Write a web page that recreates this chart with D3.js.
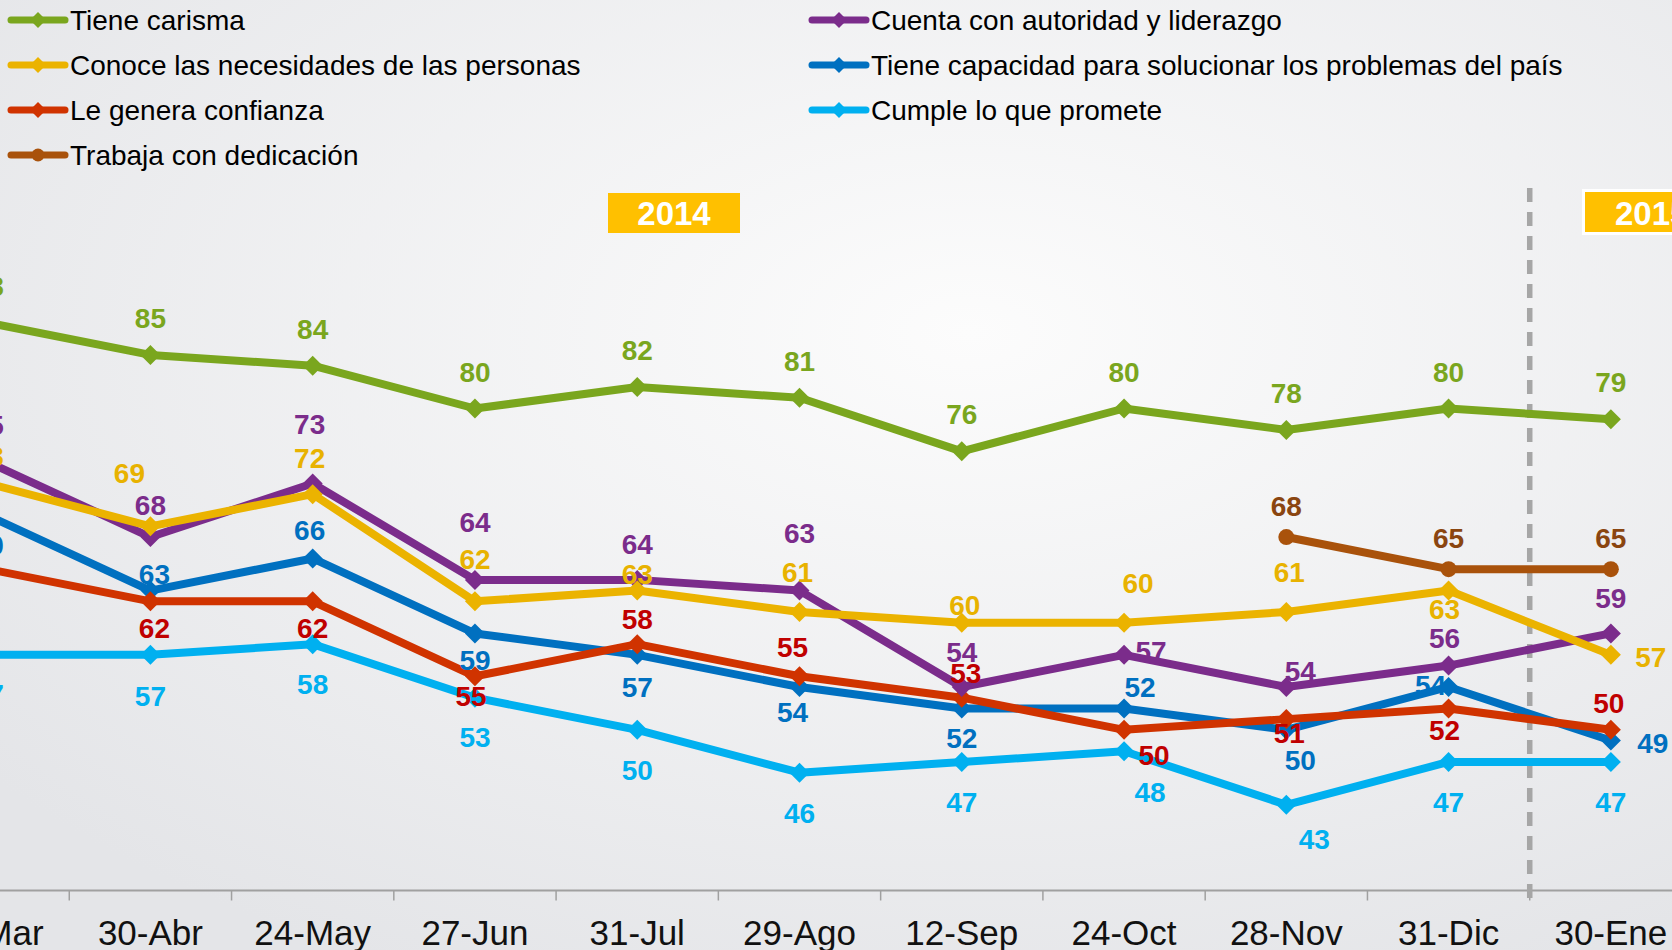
<!DOCTYPE html>
<html>
<head>
<meta charset="utf-8">
<script src="https://cdnjs.cloudflare.com/ajax/libs/d3/7.8.5/d3.min.js"></script>
<style>
body { margin:0; overflow:hidden; }
svg text { font-family: "Liberation Sans", Arial, sans-serif; }
</style>
</head>
<body>
<script>
var width=1672, height=950;

// data
var fechas=["29-Mar","30-Abr","24-May","27-Jun","31-Jul","29-Ago","12-Sep","24-Oct","28-Nov","31-Dic","30-Ene"];
var carisma=[88,85,84,80,82,81,76,80,78,80,79];
var necesidades=[73,69,72,62,63,61,60,60,61,63,57];
var autoridad=[75,68,73,64,64,63,54,57,54,56,59];
var capacidad=[70,63,66,59,57,54,52,52,50,54,49];
var confianza=[65,62,62,55,58,55,53,50,51,52,50];
var cumple=[57,57,58,53,50,46,47,48,43,47,47];
var dedicacion=[null,null,null,null,null,null,null,null,68,65,65];

// label nudges (px from point)
var nudgeCarisma=[[0,-37],[0,-37],[0,-37],[0,-37],[0,-37],[0,-37],[0,-37],[0,-37],[0,-37],[0,-37],[0,-37]];
var nudgeNecesidades=[[0,-27],[-21,-53],[-3,-36],[0,-42],[0,-17],[-2,-40],[3,-18],[14,-40],[3,-40],[-4,18],[40,2]];
var nudgeAutoridad=[[0,-37],[0,-32],[-3,-59],[0,-58],[0,-36],[0,-58],[0,-35],[27,-4],[14,-16],[-4,-28],[0,-35]];
var nudgeCapacidad=[[0,29],[4,-17],[-3,-28],[0,27],[0,32],[-7,25],[0,30],[16,-21],[14,30],[-18,-2],[42,2]];
var nudgeConfianza=[[-45,0],[4,27],[0,27],[-4,20],[0,-25],[-7,-29],[4,-25],[30,25],[3,14],[-4,22],[-2,-27]];
var nudgeCumple=[[0,39],[0,41],[0,40],[0,39],[0,40],[0,40],[0,40],[26,41],[28,34],[0,40],[0,40]];
var nudgeDedicacion=[[0,-31],[0,-31],[0,-31],[0,-31],[0,-31],[0,-31],[0,-31],[0,-31],[0,-31],[0,-31],[0,-31]];

var series=[
	{name:"Cumple lo que promete", values:cumple, color:"#00B0F0", label:"#00B0F0", marker:"diamond", nudge:nudgeCumple},
	{name:"Tiene capacidad para solucionar los problemas del país", values:capacidad, color:"#0070C0", label:"#0070C0", marker:"diamond", nudge:nudgeCapacidad},
	{name:"Le genera confianza", values:confianza, color:"#D03300", label:"#C00000", marker:"diamond", nudge:nudgeConfianza},
	{name:"Cuenta con autoridad y liderazgo", values:autoridad, color:"#7B2C8B", label:"#7B2C8B", marker:"diamond", nudge:nudgeAutoridad},
	{name:"Conoce las necesidades de las personas", values:necesidades, color:"#EBB300", label:"#E8B200", marker:"diamond", nudge:nudgeNecesidades},
	{name:"Tiene carisma", values:carisma, color:"#7AA61E", label:"#7AA61E", marker:"diamond", nudge:nudgeCarisma},
	{name:"Trabaja con dedicación", values:dedicacion, color:"#A9520B", label:"#8A4510", marker:"circle", nudge:nudgeDedicacion}
];

var legendLeft=["Tiene carisma","Conoce las necesidades de las personas","Le genera confianza","Trabaja con dedicación"];
var legendRight=["Cuenta con autoridad y liderazgo","Tiene capacidad para solucionar los problemas del país","Cumple lo que promete"];

var svg=d3.select("body").append("svg").attr("width",width).attr("height",height);

var grad=svg.append("defs").append("radialGradient").attr("id","bg").
	attr("cx","58%").attr("cy","35%").attr("r","75%");
grad.append("stop").attr("offset","0%").attr("stop-color","#fcfcfc");
grad.append("stop").attr("offset","100%").attr("stop-color","#e4e5e8");
svg.append("rect").attr("width",width).attr("height",height).attr("fill","url(#bg)");

var x=d3.scaleBand().domain(fechas).range([-93,1692]);
var y=d3.scaleLinear().domain([35,80]).range([890.5,408.5]);
function cx(d) { return x(d)+x.bandwidth()/2; }

// year boxes
svg.append("rect").attr("x",608).attr("y",193).attr("width",132).attr("height",40).attr("fill","#FFC000");
svg.append("text").attr("x",674).attr("y",225).attr("text-anchor","middle").
	attr("fill","#fff").style("font-weight","bold").style("font-size","33px").text("2014");
svg.append("rect").attr("x",1583.5).attr("y",190.5).attr("width",120).attr("height",43).
	attr("fill","#FFC000").attr("stroke","#fff").attr("stroke-width",3);
svg.append("text").attr("x",1615).attr("y",225).
	attr("fill","#fff").style("font-weight","bold").style("font-size","33px").text("2015");

// axis
svg.append("line").attr("x1",0).attr("x2",width).attr("y1",y(35)).attr("y2",y(35)).
	attr("stroke","#a0a0a0").attr("stroke-width",2);
svg.selectAll(".tick").data(fechas.slice(1)).enter().append("line").
	attr("x1",function(d) {return x(d);}).attr("x2",function(d) {return x(d);}).
	attr("y1",y(35)).attr("y2",y(35)+10).attr("stroke","#a0a0a0").attr("stroke-width",1.5);
svg.selectAll(".xlab").data(fechas).enter().append("text").
	attr("x",function(d) {return cx(d);}).attr("y",945).
	attr("text-anchor","middle").style("font-size","35px").attr("fill","#111").
	text(function(d) {return d;});

// divider between years
var split=x("30-Ene");
svg.append("line").attr("x1",split).attr("x2",split).attr("y1",188).attr("y2",902).
	attr("stroke","#a6a6a6").attr("stroke-width",5.5).attr("stroke-dasharray","14,10");

var line=d3.line().defined(function(d) {return d.v!=null;}).
	x(function(d) {return cx(d.f);}).y(function(d) {return y(d.v);});

series.forEach(function(s) {
	var pts=s.values.map(function(v,i) {return {f:fechas[i], v:v, n:s.nudge[i]};});
	var g=svg.append("g");
	g.append("path").datum(pts).attr("d",line).attr("fill","none").
		attr("stroke",s.color).attr("stroke-width",8).attr("stroke-linejoin","round");
	var valid=pts.filter(function(d) {return d.v!=null;});
	if (s.marker=="circle") {
		g.selectAll("circle").data(valid).enter().append("circle").
			attr("cx",function(d) {return cx(d.f);}).attr("cy",function(d) {return y(d.v);}).
			attr("r",8).attr("fill",s.color);
	} else {
		g.selectAll("path.m").data(valid).enter().append("path").
			attr("d","M0,-10L10,0L0,10L-10,0Z").
			attr("transform",function(d) {return "translate("+cx(d.f)+","+y(d.v)+")";}).
			attr("fill",s.color);
	}
	s.pts=valid;
});

// labels on top
series.forEach(function(s) {
	svg.append("g").selectAll("text").data(s.pts).enter().append("text").
		attr("x",function(d) {return cx(d.f)+d.n[0];}).
		attr("y",function(d) {return y(d.v)+d.n[1]+10;}).
		attr("text-anchor","middle").attr("fill",s.label).
		style("font-weight","bold").style("font-size","28px").
		text(function(d) {return d.v;});
});

// legend
function legendItem(name,lx,ly) {
	var s=series.filter(function(d) {return d.name==name;})[0];
	var g=svg.append("g").attr("transform","translate("+lx+","+ly+")");
	g.append("line").attr("x1",0).attr("x2",54).attr("stroke",s.color).
		attr("stroke-width",7).attr("stroke-linecap","round");
	if (s.marker=="circle") {
		g.append("circle").attr("cx",27).attr("r",6.5).attr("fill",s.color);
	} else {
		g.append("path").attr("d","M27,-8L35,0L27,8L19,0Z").attr("fill",s.color);
	}
	g.append("text").attr("x",59).attr("y",10).style("font-size","28px").attr("fill","#000").text(name);
}
legendLeft.forEach(function(n,i) {legendItem(n,11,20+i*45);});
legendRight.forEach(function(n,i) {legendItem(n,812,20+i*45);});
</script>
</body>
</html>
